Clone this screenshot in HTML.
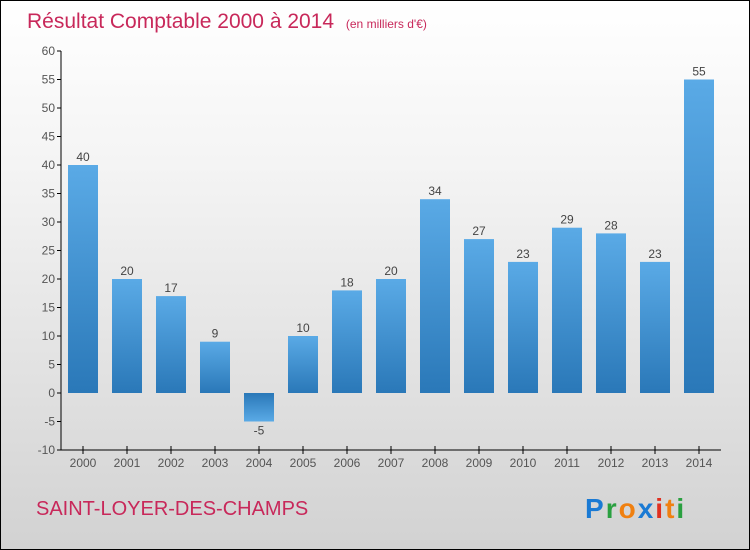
<!DOCTYPE html>
<html><head><meta charset="utf-8"><style>
body{margin:0}
#c{position:relative;width:748px;height:548px;border:1px solid #000;background:linear-gradient(#ffffff,#f4f4f4 30%,#d2d2d2);font-family:"Liberation Sans",sans-serif;overflow:hidden}
</style></head><body>
<div id="c">
<svg width="748" height="548">
<defs><linearGradient id="g" x1="0" y1="0" x2="0" y2="1"><stop offset="0" stop-color="#5aaae6"/><stop offset="1" stop-color="#2a78b8"/></linearGradient>
<linearGradient id="gn" x1="0" y1="0" x2="0" y2="1"><stop offset="0" stop-color="#2a78b8"/><stop offset="1" stop-color="#5aaae6"/></linearGradient></defs>
<text x="26" y="27" font-size="21" fill="#c8285a">Résultat Comptable 2000 à 2014 <tspan font-size="12" dx="6">(en milliers d'€)</tspan></text>
<g id="axes"></g><g id="bars"></g>
<text x="35" y="514" font-size="20" fill="#c8285a">SAINT-LOYER-DES-CHAMPS</text>
<text x="584" y="517" font-size="28" font-weight="bold" letter-spacing="2"><tspan fill="#1a7ad4">P</tspan><tspan fill="#2aa040">r</tspan><tspan fill="#f08010">o</tspan><tspan fill="#1a7ad4">x</tspan><tspan fill="#e03020">i</tspan><tspan fill="#f08010">t</tspan><tspan fill="#2aa040">i</tspan></text>
</svg></div>
<script>
const years=[2000,2001,2002,2003,2004,2005,2006,2007,2008,2009,2010,2011,2012,2013,2014];
const values=[40,20,17,9,-5,10,18,20,34,27,23,29,28,23,55];
const ticks=[-10,-5,0,5,10,15,20,25,30,35,40,45,50,55,60];
const NS="http://www.w3.org/2000/svg";
const x0=60,x1=720,bw=30;
const y=v=>392-v*5.7;
const xc=i=>x0+44*i+22;
function mk(t,a,p,txt){const e=document.createElementNS(NS,t);for(const k in a)e.setAttribute(k,a[k]);if(txt!==undefined)e.textContent=txt;p.appendChild(e);return e;}
const ax=document.getElementById('axes'),bs=document.getElementById('bars');
ticks.forEach(t=>{
const l=mk('line',{x1:x0-4,x2:x0,y1:y(t),y2:y(t),stroke:'#000'},ax);

const tx=mk('text',{x:x0-6,y:y(t)+4,'text-anchor':'end','font-size':12,fill:'#555'},ax,String(t));

});
const ya=mk('line',{x1:x0,x2:x0,y1:y(60),y2:y(-10),stroke:'#000'},ax);

const xa=mk('line',{x1:x0,x2:x1,y1:y(-10),y2:y(-10),stroke:'#000'},ax);

years.forEach((yr,i)=>{
const tk=mk('line',{x1:xc(i),x2:xc(i),y1:y(-10)-4,y2:y(-10)+4,stroke:'#000'},ax);

const tl=mk('text',{x:xc(i),y:y(-10)+17,'text-anchor':'middle','font-size':12,fill:'#555'},ax,String(yr));

const v=values[i];
const top=Math.min(y(v),y(0)),h=Math.abs(y(v)-y(0));
const r=mk('rect',{x:xc(i)-bw/2,y:top,width:bw,height:h,fill:v<0?'url(#gn)':'url(#g)'},bs);

const vl=mk('text',{x:xc(i),y:v<0?y(v)+13:y(v)-4,'text-anchor':'middle','font-size':12,fill:'#444'},bs,String(v));

});
</script>
</body></html>
